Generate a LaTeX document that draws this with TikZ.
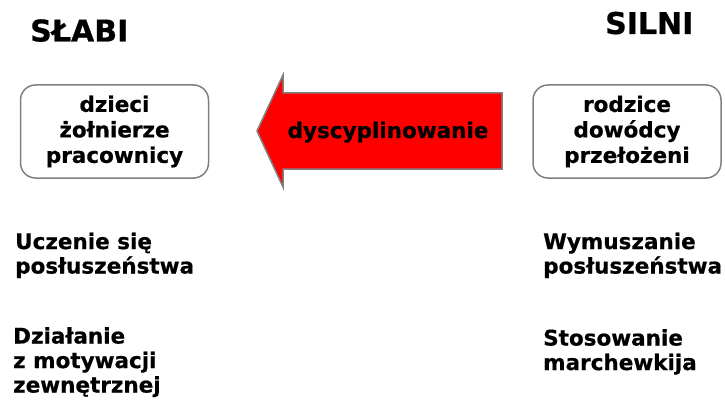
\documentclass[tikz,border=0pt]{standalone}
\usepackage{fontspec}
\setmainfont{DejaVu Sans}[BoldFeatures={FakeBold=0.6}]
\definecolor{boxgray}{HTML}{808080}
\definecolor{arrowred}{HTML}{FF0000}
\begin{document}
\begin{tikzpicture}[x=1pt,y=-1pt,
  every node/.style={font=\bfseries\fontsize{21.5}{25.5}\selectfont, inner sep=0pt, text=black},
  role/.style={draw=boxgray, line width=1.5pt, rounded corners=15pt, fill=white,
    minimum width=188pt, minimum height=93pt, align=center},
  title/.style={font=\bfseries\fontsize{30}{34}\selectfont, anchor=base west},
  note/.style={anchor=north west, align=left, font=\bfseries\fontsize{21.5}{24.5}\selectfont},
  bigarrow/.style={draw=boxgray, fill=arrowred, line width=1.5pt, line join=miter}]
\useasboundingbox (0,0) rectangle (725,401);

\node[title] (slabi) at (30,41.5) {SŁABI};
\node[title] (silni) at (605,34) {SILNI};

\node[role] (weak) at (114.5,131.5) {dzieci\\żołnierze\\pracownicy};
\node[role] (strong) at (627,131.5) {rodzice\\dowódcy\\przełożeni};

\draw[bigarrow] (257,131) -- (283,75) -- (283,93) -- (502,93) -- (502,169)
  -- (283,169) -- (283,187) -- cycle;
\node[anchor=base] (disc) at (388,138) {dyscyplinowanie};

\node[note] (learn) at (15,232.5) {Uczenie się\\posłuszeństwa};
\node[note] (act) at (13,327) {Działanie\\z motywacji\\zewnętrznej};
\node[note] (force) at (543,232.5) {Wymuszanie\\posłuszeństwa};
\node[note] (carrot) at (543,329) {Stosowanie\\marchewkija};
\end{tikzpicture}
\end{document}
